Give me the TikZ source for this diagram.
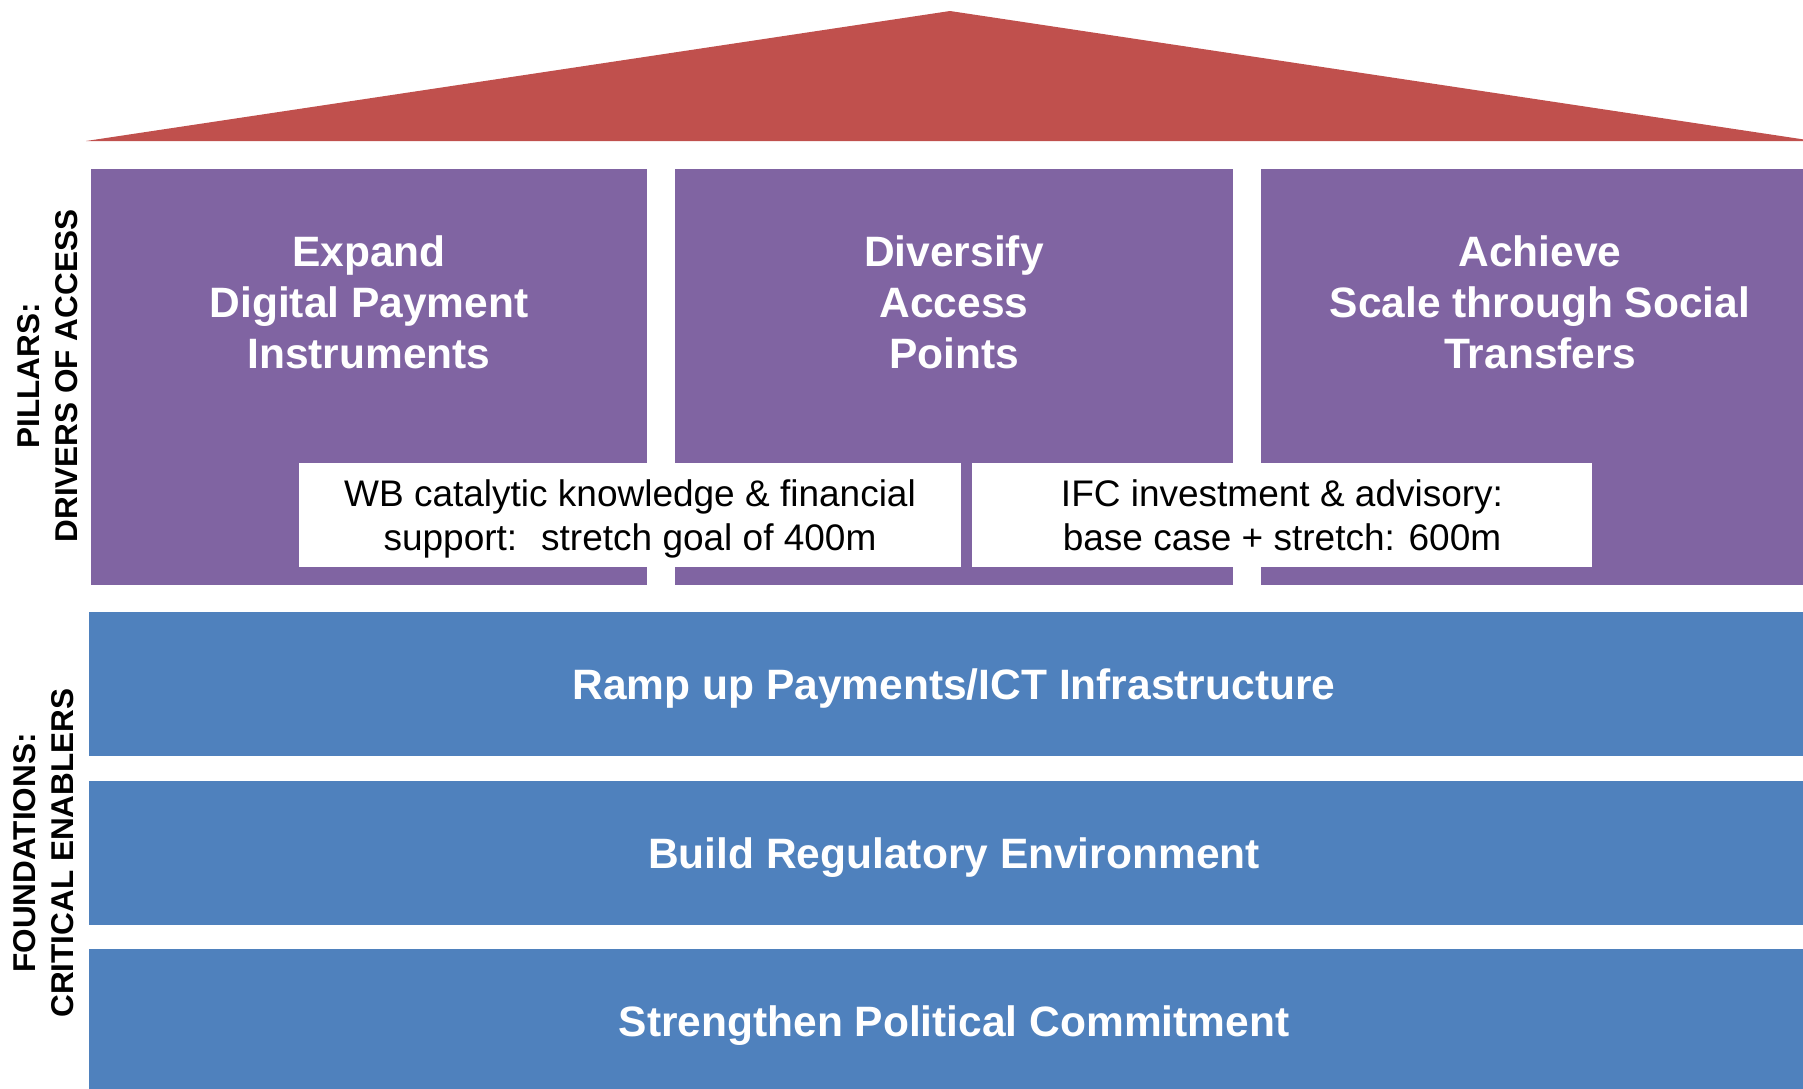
\documentclass[tikz,border=0pt]{standalone}
\usepackage{fontspec}
\setmainfont{Liberation Sans}
\definecolor{roofred}{HTML}{C0504D}
\definecolor{pillarpurple}{HTML}{8064A2}
\definecolor{basisblue}{HTML}{4F81BD}
\tikzset{%
    pillar/.style={fill=pillarpurple,draw=none,inner sep=0pt}
}

\begin{document}
\begin{tikzpicture}[x=1pt,y=-1pt,
        title/.style={text=white,align=center,font=\fontsize{42.5}{51}\selectfont\bfseries},
        note/.style={fill=white,align=center,inner sep=0pt,minimum height=104pt,text depth=0pt,font=\fontsize{37}{44.6}\selectfont},
        band/.style={fill=basisblue,inner sep=0pt,minimum width=1730pt,minimum height=144pt,text height=31pt,text depth=0pt,text=white,font=\fontsize{42.5}{51}\selectfont\bfseries},
        side/.style={rotate=90,align=center,font=\fontsize{31.5}{38}\selectfont\bfseries}
        ]
        \useasboundingbox (0,0) rectangle (1803,1088);
        \clip (0,0) rectangle (1803,1088);

        % roof
        \fill[roofred] (86,141) -- (950,11) -- (1814,141) -- cycle;

        % pillars
        \node[pillar,minimum width=556pt,minimum height=416pt] (p1) at (369,377){};
        \node[pillar,minimum width=558pt,minimum height=416pt] (p2) at (954,377){};
        \node[pillar,minimum width=558pt,minimum height=416pt] (p3) at (1540,377){};

        \node[title] (t1) at (369,302){Expand\\Digital Payment\\Instruments};
        \node[title] (t2) at (954,302){Diversify\\Access\\Points};
        \node[title] (t3) at (1540,302){Achieve\\Scale through Social\\Transfers};

        \node[note,minimum width=662pt] (wb) at (630,515){WB catalytic knowledge \& financial\\support:~ stretch goal of 400m};
        \node[note,minimum width=620pt] (ifc) at (1282,515){IFC investment \& advisory:\\base case + stretch: 600m};

        % foundations
        \node[band] (f1) at (954,684){Ramp up Payments/ICT Infrastructure};
        \node[band] (f2) at (954,853){Build Regulatory Environment};
        \node[band] (f3) at (954,1021){Strengthen Political Commitment};

        \node[side] (pl) at (48,376){PILLARS:\\DRIVERS OF ACCESS};
        \node[side] (fl) at (44,853){FOUNDATIONS:\\CRITICAL ENABLERS};
    \end{tikzpicture}
\end{document}
